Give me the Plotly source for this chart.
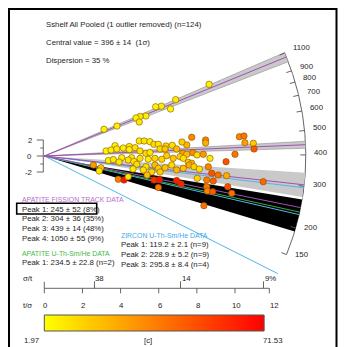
import math
import numpy as np
import plotly.graph_objects as go

# ---------------- data ----------------
T0 = 396.0          # central value
T0_ERR = 14
N_GRAINS = 124
DISPERSION = 35

# single grains: x = t/sigma, z = standardised estimate, c = colour variable
t_sigma = [8.64, 6.89, 6.62, 6.14, 5.84, 5.33, 5.02, 4.81, 4.98, 3.81, 3.13,
           4.98, 5.24, 5.54, 5.75, 5.98, 6.38, 6.71, 3.71, 7.47, 7.22,
           3.24, 3.50, 3.80, 4.14, 4.46, 4.46, 4.76, 6.07, 6.33, 6.94, 5.02,
           5.33, 7.26, 7.78, 8.01, 8.34, 6.42, 7.12, 7.47, 4.06, 4.58, 5.02,
           5.80, 6.76, 7.29, 8.69, 5.54,
           3.36, 3.62, 4.40, 5.45, 6.16, 3.92, 7.55, 7.73, 4.70,
           4.85, 5.33, 5.80, 5.98, 6.33, 6.68, 6.94, 7.29, 7.60, 7.85, 8.13,
           8.60, 5.19, 5.63, 6.07, 4.65, 5.39,
           2.57, 2.97, 2.88,
           3.88, 4.18, 4.40, 5.75, 6.03, 5.98, 6.94, 7.17,
           7.73, 8.46, 8.46, 10.23, 10.47, 10.52, 10.96, 11.00, 10.00, 9.53,
           8.78, 9.12, 9.56, 8.02, 8.52, 8.86, 8.52, 8.55, 8.83, 9.62, 9.83,
           8.37, 11.48]
z_score = [8.96, 7.04, 5.88, 6.23, 6.15, 5.00, 4.94, 4.75, 4.25, 3.75, 3.34,
           1.88, 1.88, 1.79, 1.46, 1.46, 1.25, 1.34, 1.29, 1.38, 1.75,
           0.63, 0.75, 0.88, 1.00, 1.19, 0.81, 1.04, 0.88, 0.88, 0.88, 0.63,
           0.34, 0.34, 0.41, 0.13, 0.21, 0.04, -0.09, 0.21, -0.21, -0.21, -0.29,
           -0.29, -0.29, -0.29, -0.29, 0.44,
           -0.56, -0.44, -0.50, -0.41, -0.41, -0.75, -0.79, -0.91, -0.69,
           -1.04, -1.34, -1.13, -1.54, -1.46, -1.13, -1.75, -1.54, -1.13, -1.34, -1.63,
           -1.34, -1.75, -2.00, -2.00, -1.63, -2.38,
           -1.13, -1.46, -1.88,
           -2.91, -3.00, -2.59, -3.00, -2.96, -3.94, -3.06, -3.50,
           2.34, 2.00, 1.63, 2.41, 2.50, 1.66, 1.59, 0.88, 0.21, -0.71,
           -2.16, -2.38, -2.46, -2.79, -3.00, -3.13, -3.84, -4.38, -4.46, -3.84, -4.66,
           -6.21, -3.21]
c_value = [6, 8, 4, 7, 5, 6, 8, 5, 9, 6, 5,
           8, 10, 6, 12, 9, 14, 10, 5, 22, 16,
           5, 6, 8, 7, 9, 6, 11, 13, 18, 20, 10,
           12, 28, 34, 12, 30, 16, 14, 20, 7, 9, 11,
           13, 17, 10, 8, 9,
           6, 8, 10, 7, 14, 9, 15, 24, 8,
           12, 10, 20, 15, 18, 12, 22, 19, 25, 14, 10,
           36, 9, 13, 16, 7, 20,
           30, 18, 8,
           38, 66, 10, 60, 68, 40, 64, 62,
           34, 36, 24, 36, 40, 28, 16, 48, 40, 50,
           50, 42, 24, 15, 38, 46, 40, 36, 48, 52, 42,
           40, 44]

aft_peak = [245, 304, 439, 1050]
aft_err = [52, 36, 14, 55]
aft_frac = [8, 35, 48, 9]
ahe_peak = [234.5]
ahe_err = [22.8]
ahe_n = [2]
zhe_peak = [119.2, 228.9, 295.8]
zhe_err = [2.1, 5.2, 8.4]
zhe_n = [9, 9, 4]

arc_ticks = [150, 200, 300, 400, 500, 600, 700, 800, 900, 1100]
tsig_ticks = [0, 2, 4, 6, 8, 10, 12]
sigt_ticks = [38, 14, 8.7]
sigt_text = ["38", "14", "9%"]
C_MIN, C_MAX = 1.97, 71.53

# ---------------- geometry / styling ----------------
W, H = 345, 347
OX, OY = 44.3, 156.0      # origin in pixels
SX, SY = 19.07, 8.0       # pixels per unit on x (t/sigma) and y (z)
R_ARC = 261.5             # radius of the age scale, in pixels
X_END = 11.8              # end of the t/sigma axis

FONT = "Liberation Sans"
FS = 7.8
FS_H = 6.9
TXT = "#1e1e1e"
PURPLE = "#a24fb4"
BLUE = "#4fb6ea"
GREEN = "#3aa83a"
GREY = "#c9c9c9"


def px2x(px):
    return (px - OX) / SX


def py2y(py):
    return (OY - py) / SY


def theta(age):
    return math.atan2(SY * math.log(age / T0), SX)


def polar(th, r):
    return r * math.cos(th) / SX, r * math.sin(th) / SY


def ray(age, r):
    return polar(theta(age), r)


def wedge(lo, hi, n=60):
    ths = np.linspace(theta(lo), theta(hi), n)
    xs = [0.0] + [polar(t, R_ARC)[0] for t in ths] + [0.0]
    ys = [0.0] + [polar(t, R_ARC)[1] for t in ths] + [0.0]
    return xs, ys


fig = go.Figure()


def add_line(xs, ys, color, width):
    fig.add_trace(go.Scatter(x=xs, y=ys, mode="lines", hoverinfo="skip",
                             line=dict(color=color, width=width), showlegend=False))


def add_fill(xs, ys, fill, lcolor=None, lwidth=0):
    fig.add_trace(go.Scatter(x=xs, y=ys, mode="lines", fill="toself", fillcolor=fill,
                             hoverinfo="skip", showlegend=False,
                             line=dict(color=lcolor or fill, width=lwidth)))


# age arc
ths = np.linspace(theta(min(arc_ticks)), theta(max(arc_ticks)), 200)
add_line([polar(t, R_ARC)[0] for t in ths], [polar(t, R_ARC)[1] for t in ths], "#555555", 0.9)

# peak bands
lo0, hi0 = aft_peak[0] - aft_err[0], aft_peak[0] + aft_err[0]
xs, ys = wedge(lo0, hi0)
add_fill(xs, ys, "black")
lo1, hi1 = aft_peak[1] - aft_err[1], aft_peak[1] + aft_err[1]
xs, ys = wedge(lo1, hi1)
add_fill(xs, ys, GREY)
ex, ey = ray(lo1, R_ARC)
add_line([0, ex], [0, ey], "white", 2.4)
for k in (2, 3):
    xs, ys = wedge(aft_peak[k] - aft_err[k], aft_peak[k] + aft_err[k])
    add_fill(xs, ys, GREY, "#8f8f8f", 0.6)

# peak lines
for a in zhe_peak:
    ex, ey = ray(a, R_ARC)
    add_line([0, ex], [0, ey], BLUE, 1)
for a in ahe_peak:
    ex, ey = ray(a, R_ARC)
    add_line([0, ex], [0, ey], GREEN, 1)
for a in aft_peak:
    ex, ey = ray(a, R_ARC)
    add_line([0, ex], [0, ey], PURPLE, 1)

# arc ticks
tx, ty = [], []
for a in arc_ticks:
    x1, y1 = ray(a, R_ARC - 5.5)
    x2, y2 = ray(a, R_ARC)
    tx += [x1, x2, None]
    ty += [y1, y2, None]
add_line(tx, ty, "#555555", 0.9)

annotations = []
for a in arc_ticks:
    lx, ly = ray(a, 268)
    annotations.append(dict(x=lx, y=ly, xref="x", yref="y", text=str(a), showarrow=False,
                            xanchor="left", yanchor="middle", yshift=2.5,
                            font=dict(family=FONT, size=FS, color=TXT)))

# short z axis (-2..2)
ax_x = px2x(43.3)
yx, yy = [ax_x, ax_x, None], [-2, 2, None]
for v in (-2, -1, 0, 1, 2):
    L = 6.5 if v % 2 == 0 else 3.0
    yx += [ax_x, ax_x - L / SX, None]
    yy += [v, v, None]
add_line(yx, yy, "#555555", 0.9)
for v in (-2, 0, 2):
    annotations.append(dict(x=px2x(34), y=v, xref="x", yref="y", text=str(v), showarrow=False,
                            xanchor="right", yanchor="middle",
                            font=dict(family=FONT, size=FS, color=TXT)))

# bottom t/sigma axis with sigma/t ticks
AY = py2y(288.3)
bx, by = [0, X_END, None], [AY, AY, None]
for v in tsig_ticks:
    if v <= X_END:
        bx += [v, v, None]
        by += [AY, AY - 5 / SY, None]
bx += [0, 0, None, X_END, X_END, None]
by += [AY, AY + 6.5 / SY, None, AY, AY - 5 / SY, None]
for p in sigt_ticks:
    bx += [100.0 / p, 100.0 / p, None]
    by += [AY, AY + 7 / SY, None]
add_line(bx, by, "#555555", 0.9)
for v in tsig_ticks:
    annotations.append(dict(x=v + 1.0 / SX, y=py2y(305.7), xref="x", yref="y", text=str(v),
                            showarrow=False, xanchor="center", yanchor="middle",
                            font=dict(family=FONT, size=FS, color=TXT)))
for p, s in zip(sigt_ticks, sigt_text):
    annotations.append(dict(x=100.0 / p, y=py2y(278), xref="x", yref="y", text=s,
                            showarrow=False, xanchor="left", yanchor="middle", xshift=-1,
                            font=dict(family=FONT, size=FS, color=TXT)))

# colour bar as heatmap
cb_x1 = px2x(264)
ncol = 220
cdx = cb_x1 / ncol
cvals = np.linspace(C_MIN, C_MAX, ncol)
cy0, cy1 = py2y(315), py2y(331)
fig.add_trace(go.Heatmap(z=[cvals, cvals], x0=cdx / 2, dx=cdx,
                         y0=cy0 + (cy1 - cy0) / 4, dy=(cy1 - cy0) / 2,
                         coloraxis="coloraxis", hoverinfo="skip"))

# grains
fig.add_trace(go.Scatter(x=t_sigma, y=z_score, mode="markers", showlegend=False,
                         marker=dict(size=6.4, color=c_value, coloraxis="coloraxis",
                                     line=dict(color="rgba(125,85,0,0.85)", width=0.7))))

shapes = [
    dict(type="rect", xref="x", yref="y", x0=0, x1=cb_x1, y0=cy1, y1=cy0,
         line=dict(color="#555555", width=1)),
    dict(type="rect", xref="paper", yref="paper", x0=16.7 / W, x1=96.7 / W,
         y0=1 - 214 / H, y1=1 - 203.3 / H, line=dict(color="black", width=1.6)),
    dict(type="rect", xref="paper", yref="paper", x0=9 / W, x1=336.5 / W,
         y0=-0.02, y1=1 - 9 / H, line=dict(color="black", width=2)),
]


def ptext(px, py, text, color=TXT, anchor="left", size=FS):
    annotations.append(dict(x=px / W, y=1 - py / H, xref="paper", yref="paper", text=text,
                            showarrow=False, xanchor=anchor, yanchor="middle",
                            font=dict(family=FONT, size=size, color=color)))


ptext(43.5, 24.3, f"Sshelf All Pooled (1 outlier removed) (n={N_GRAINS})")
ptext(43.5, 42.3, f"Central value = {T0:.0f} ± {T0_ERR} \u00a0(1σ)")
ptext(43.5, 60.7, f"Dispersion = {DISPERSION} %")

ptext(20, 199.3, "APATITE FISSION TRACK DATA", color="#b86ccc", size=FS_H)
for i, (p, e, f) in enumerate(zip(aft_peak, aft_err, aft_frac)):
    ptext(20, 209 + 9.8 * i, f"Peak {i + 1}: {p} ± {e} ({f}%)")
ptext(20, 253.3, "APATITE U-Th-Sm/He DATA", color="#44b844", size=FS_H)
for i, (p, e, n) in enumerate(zip(ahe_peak, ahe_err, ahe_n)):
    ptext(20, 262.7 + 10 * i, f"Peak {i + 1}: {p} ± {e} (n={n})")
ptext(118.5, 235, "ZIRCON U-Th-Sm/He DATA", color="#3fa9ec", size=FS_H)
for i, (p, e, n) in enumerate(zip(zhe_peak, zhe_err, zhe_n)):
    ptext(118.5, 244.3 + 10 * i, f"Peak {i + 1}: {p} ± {e} (n={n})")

ptext(20.5, 278, "σ/t")
ptext(20.5, 305.7, "t/σ")
ptext(31.7, 340.7, f"{C_MIN}", anchor="center")
ptext(148.3, 340.7, "[c]", anchor="center")
ptext(272.7, 340.7, f"{C_MAX}", anchor="center")

fig.update_layout(
    width=W, height=H, margin=dict(l=0, r=0, t=0, b=0),
    paper_bgcolor="white", plot_bgcolor="white", showlegend=False,
    xaxis=dict(range=[px2x(0), px2x(W)], visible=False),
    yaxis=dict(range=[py2y(H), py2y(0)], visible=False),
    coloraxis=dict(colorscale=[[0, "#ffff00"], [1, "#ff0000"]], cmin=C_MIN, cmax=C_MAX,
                   showscale=False),
    annotations=annotations, shapes=shapes,
)

fig.write_html("out.html", config={"displayModeBar": False})
